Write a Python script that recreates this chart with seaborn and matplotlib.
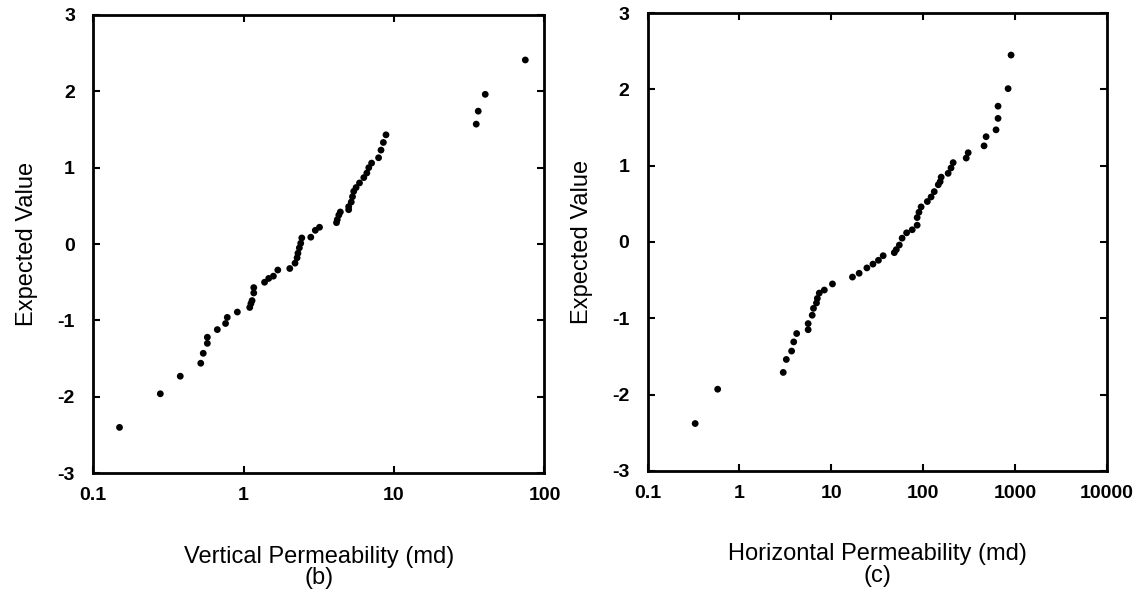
import numpy as np
import pandas as pd
import matplotlib
matplotlib.use("Agg")
import matplotlib.pyplot as plt
import seaborn as sns

# (b) vertical permeability, md  vs expected normal score
kv_md = [0.15, 0.28, 0.38, 0.52, 0.54, 0.575, 0.575, 0.67, 0.76, 0.78, 0.91,
         1.1, 1.12, 1.14, 1.17, 1.17, 1.38, 1.47, 1.58, 1.69, 2.03,
         2.2, 2.27, 2.3, 2.35, 2.4, 2.44, 2.8, 3.0, 3.2,
         4.15, 4.2, 4.3, 4.4, 5.0, 5.0, 5.2, 5.3, 5.4, 5.6, 5.9,
         6.3, 6.6, 6.8, 7.1, 7.9, 8.2, 8.5, 8.85,
         35.2, 36.3, 40.4, 74.6]
kv_score = [-2.4, -1.96, -1.73, -1.56, -1.43, -1.3, -1.22, -1.12, -1.04, -0.96, -0.89,
            -0.83, -0.78, -0.74, -0.64, -0.57, -0.5, -0.45, -0.42, -0.34, -0.32,
            -0.25, -0.18, -0.12, -0.05, 0.01, 0.08, 0.09, 0.18, 0.22,
            0.28, 0.32, 0.38, 0.42, 0.45, 0.49, 0.55, 0.62, 0.69, 0.74, 0.8,
            0.87, 0.93, 1.0, 1.06, 1.13, 1.23, 1.33, 1.43,
            1.57, 1.74, 1.96, 2.41]

# (c) horizontal permeability, md  vs expected normal score
kh_md = [0.33, 0.58, 3.0, 3.24, 3.7, 3.9, 4.2, 5.6, 5.6, 6.2, 6.4, 6.9, 7.05,
         7.4, 8.4, 10.3, 17.0, 20.1, 24.4, 28.4, 32.6, 36.7,
         48.5, 51, 55, 59, 66, 76, 86, 86, 90, 95, 111, 122, 132,
         146, 153, 157, 187, 201, 212, 294, 309, 460, 484,
         621, 653, 653, 840, 905]
kh_score = [-2.38, -1.93, -1.71, -1.54, -1.43, -1.31, -1.2, -1.15, -1.07, -0.96, -0.87, -0.8, -0.74,
            -0.67, -0.63, -0.55, -0.46, -0.41, -0.34, -0.29, -0.24, -0.18,
            -0.14, -0.1, -0.04, 0.05, 0.12, 0.16, 0.22, 0.32, 0.39, 0.46, 0.53, 0.59, 0.66,
            0.75, 0.79, 0.85, 0.9, 0.97, 1.04, 1.1, 1.17, 1.26, 1.38,
            1.47, 1.62, 1.78, 2.01, 2.45]

yticks = [-3, -2, -1, 0, 1, 2, 3]
xticks_b = [0.1, 1, 10, 100]
xticks_c = [0.1, 1, 10, 100, 1000, 10000]

vert = pd.DataFrame({"perm": kv_md, "score": kv_score})
horz = pd.DataFrame({"perm": kh_md, "score": kh_score})

sns.set_style("ticks", {"axes.edgecolor": "black", "text.color": "black",
                        "axes.labelcolor": "black", "xtick.color": "black",
                        "ytick.color": "black"})
plt.rcParams["font.family"] = ["Liberation Sans", "DejaVu Sans"]

fig = plt.figure(figsize=(11.4, 5.96), dpi=100)
ax1 = fig.add_axes([0.0816, 0.206, 0.396, 0.769])
ax2 = fig.add_axes([0.568, 0.210, 0.403, 0.768])

panels = [(ax1, vert, xticks_b, "Vertical Permeability (md)\n(b)"),
          (ax2, horz, xticks_c, "Horizontal Permeability (md)\n(c)")]

for ax, df, xt, label in panels:
    sns.scatterplot(data=df, x="perm", y="score", ax=ax, color="black",
                    s=24, edgecolor="none", legend=False)
    ax.set_xscale("log")
    ax.set_xlim(xt[0], xt[-1])
    ax.set_ylim(-3, 3)
    ax.set_xticks(xt)
    ax.set_xticklabels([f"{v:g}" for v in xt], fontweight="bold")
    ax.minorticks_off()
    ax.set_yticks(yticks)
    ax.set_yticklabels([str(v) for v in yticks], fontweight="bold")
    ax.tick_params(direction="in", length=5, width=1.5, top=True, right=True,
                   labelsize=14, colors="black")
    ax.tick_params(axis="x", pad=10)
    ax.tick_params(axis="y", pad=13)
    for sp in ax.spines.values():
        sp.set_linewidth(2)
        sp.set_color("black")
    ax.set_xlabel(label, fontsize=17, labelpad=30, linespacing=0.95, color="black")
    ax.set_ylabel("Expected Value", fontsize=17, labelpad=14, color="black")

fig.savefig("out.png", dpi=100)
